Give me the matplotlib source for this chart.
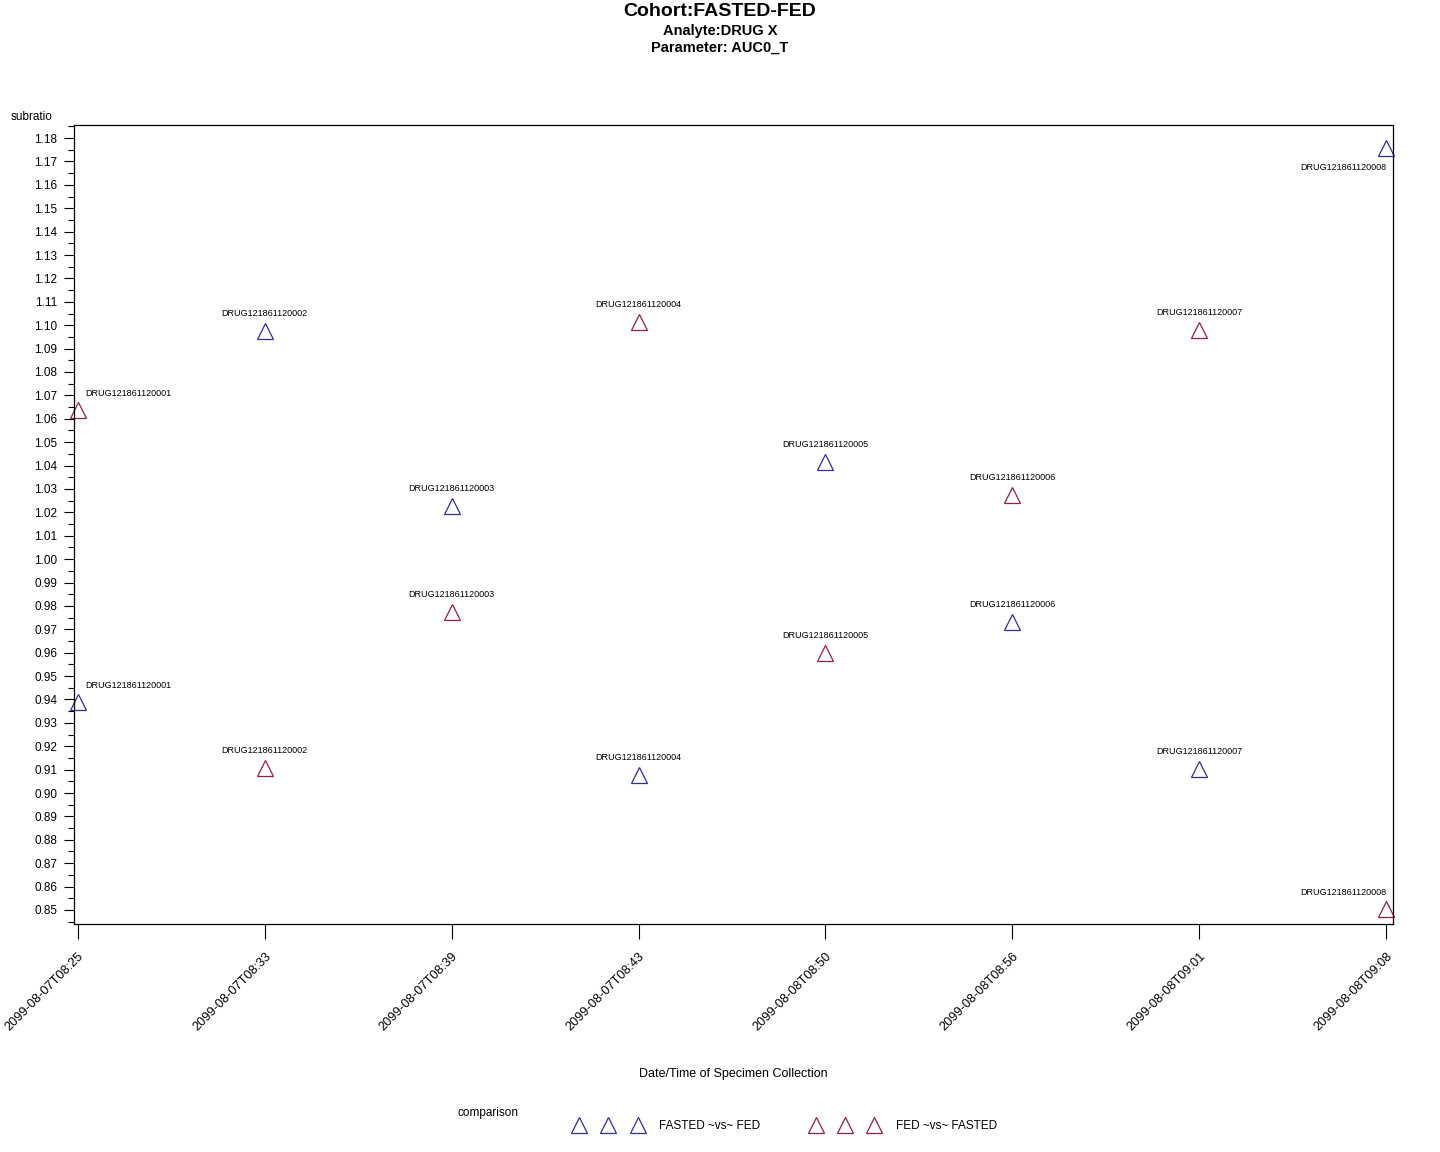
import matplotlib.pyplot as plt
from matplotlib.lines import Line2D
from matplotlib.ticker import MultipleLocator
import numpy as np

plt.rcParams['font.family'] = ['Liberation Sans', 'DejaVu Sans']

# sample times (x categories)
times = ['2099-08-07T08:25', '2099-08-07T08:33', '2099-08-07T08:39', '2099-08-07T08:43',
         '2099-08-08T08:50', '2099-08-08T08:56', '2099-08-08T09:01', '2099-08-08T09:08']
subjects = ['DRUG121861120001', 'DRUG121861120002', 'DRUG121861120003', 'DRUG121861120004',
            'DRUG121861120005', 'DRUG121861120006', 'DRUG121861120007', 'DRUG121861120008']

# subratio values
fasted_vs_fed = [0.9389, 1.0975, 1.0227, 0.9077, 1.0415, 0.9731, 0.9102, 1.1757]
fed_vs_fasted = [1.0637, 0.9107, 0.9774, 1.1013, 0.9598, 1.0274, 1.0979, 0.8505]

blue = '#2E2E9A'
red = '#952040'

fig = plt.figure(figsize=(14.4, 11.52), dpi=100)
ax = fig.add_axes([74/1440, 1-924/1152, (1393-74)/1440, (924-125)/1152])

x = np.arange(len(times))
ax.plot(x, fasted_vs_fed, ls='none', marker='^', ms=11, mfc='none', mec=blue, mew=0.9, clip_on=False)
ax.plot(x, fed_vs_fasted, ls='none', marker='^', ms=11, mfc='none', mec=red, mew=0.9, clip_on=False)

# point labels
last = len(x) - 1
for vals in (fasted_vs_fed, fed_vs_fasted):
    for i, v in enumerate(vals):
        if i == 0:
            ax.annotate(subjects[i], (x[i], v), xytext=(5, 12), textcoords='offset points',
                        ha='left', va='center', fontsize=6.5)
        elif i == last:
            dy = -14 if v > 1 else 12
            ax.annotate(subjects[i], (x[i], v), xytext=(0, dy), textcoords='offset points',
                        ha='right', va='center', fontsize=6.5)
        else:
            ax.annotate(subjects[i], (x[i], v), xytext=(0, 12.5), textcoords='offset points',
                        ha='center', va='center', fontsize=6.5)

ax.set_xlim(-0.021, 7.037)
ax.set_ylim(0.8440, 1.1856)
ax.yaxis.set_major_locator(MultipleLocator(0.01))
ax.yaxis.set_minor_locator(MultipleLocator(0.005))
ax.yaxis.set_major_formatter(plt.FormatStrFormatter('%.2f'))
ax.tick_params(axis='y', which='major', length=7.5, width=0.8, labelsize=8.5, pad=4.5)
ax.tick_params(axis='y', which='minor', length=4, width=0.8)
ax.set_xticks(x)
ax.set_xticklabels(times, rotation=45, ha='right', va='top', rotation_mode='anchor', fontsize=9.2)
ax.tick_params(axis='x', length=11, width=0.8, pad=8)
for s in ax.spines.values():
    s.set_linewidth(0.9)

fig.text(11/1440, 1-117/1152, 'subratio', fontsize=8.5, ha='left', va='center')
fig.text(733/1440, 1-1074/1152, 'Date/Time of Specimen Collection', fontsize=9, ha='center', va='center')

fig.text(720/1440, 1-11/1152, 'Cohort:FASTED-FED', fontsize=14, fontweight='bold', ha='center', va='center')
fig.text(720/1440, 1-31/1152, 'Analyte:DRUG X', fontsize=10.5, fontweight='bold', ha='center', va='center')
fig.text(720/1440, 1-48/1152, 'Parameter: AUC0_T', fontsize=10.5, fontweight='bold', ha='center', va='center')

# legend
fig.text(458/1440, 1-1113/1152, 'comparison', fontsize=8.5, ha='left', va='center')
handles = [Line2D([], [], ls='none', marker='^', ms=11, mfc='none', mec=blue, mew=0.9),
           Line2D([], [], ls='none', marker='^', ms=11, mfc='none', mec=red, mew=0.9)]
fig.legend(handles, ['FASTED ~vs~ FED', 'FED ~vs~ FASTED'], numpoints=3, ncol=2,
           loc='center left', bbox_to_anchor=(570/1440, 1-1126/1152), frameon=False,
           fontsize=8.5, handlelength=5.52, handletextpad=1.56, columnspacing=4.36, borderpad=0)

fig.savefig('out.png', dpi=100)
